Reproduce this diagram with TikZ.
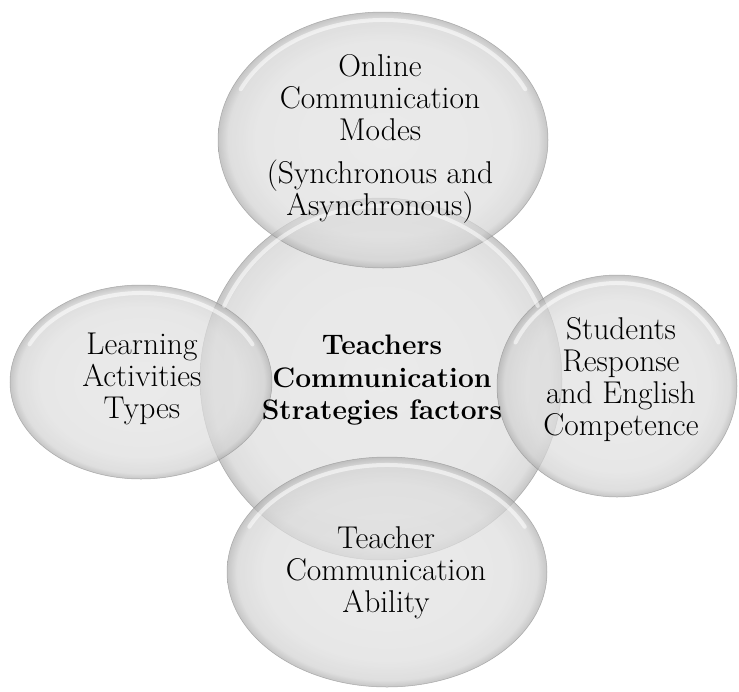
\documentclass[tikz,border=0pt]{standalone}
\usetikzlibrary{shapes.geometric}
\definecolor{bubA}{gray}{0.89}
\definecolor{bubB}{gray}{0.87}
\definecolor{bubC}{gray}{0.82}
\definecolor{bubD}{gray}{0.68}
\definecolor{bubedge}{gray}{0.58}
\pgfdeclareradialshading{bubshade}{\pgfpoint{0bp}{0bp}}{color(0bp)=(bubA); color(19bp)=(bubB); color(23.5bp)=(bubC); color(25bp)=(bubD); color(50bp)=(bubD)}
\tikzset{
  bubble/.style={ellipse, inner sep=0pt, shading=bubshade, draw=bubedge, line width=0.5pt, opacity=0.7},
  glare/.style={white, line width=4pt, opacity=0.55, line cap=round},
  txt/.style={align=center, font=\fontsize{31.5}{32}\selectfont},
  btxt/.style={align=center, font=\fontsize{28.2}{32.5}\selectfont\bfseries},
}
\begin{document}
\begin{tikzpicture}[x=1pt,y=-1pt]
\fill[white] (0,0) rectangle (739,691);
\useasboundingbox (0,0) rectangle (739,691);
% shapes
\node[bubble, minimum width=362pt, minimum height=362pt] (core) at (381,379) {};
\node[bubble, minimum width=330pt, minimum height=256pt] (online) at (383,140) {};
\node[bubble, minimum width=262pt, minimum height=194pt] (learn) at (141,382) {};
\node[bubble, minimum width=240pt, minimum height=222pt] (stud) at (617,386) {};
\node[bubble, minimum width=320pt, minimum height=230pt] (abil) at (387,572) {};
% glare
\draw[glare] ([shift={(205:173 and 173)}]core.center) arc[start angle=205, end angle=335, x radius=173, y radius=173];
\draw[glare] ([shift={(205:157 and 120)}]online.center) arc[start angle=205, end angle=335, x radius=157, y radius=120];
\draw[glare] ([shift={(205:123 and 89)}]learn.center) arc[start angle=205, end angle=335, x radius=123, y radius=89];
\draw[glare] ([shift={(205:112 and 103)}]stud.center) arc[start angle=205, end angle=335, x radius=112, y radius=103];
\draw[glare] ([shift={(205:152 and 107)}]abil.center) arc[start angle=205, end angle=335, x radius=152, y radius=107];
% texts
\node[txt] (t-online) at (380,139) {Online\\Communication\\Modes\\[11pt](Synchronous and\\Asynchronous)};
\node[btxt] (t-core) at (382,380.5) {Teachers\\Communication\\Strategies factors};
\node[txt] (t-learn) at (142,378.5) {Learning\\Activities\\Types};
\node[txt] (t-stud) at (621,379.5) {Students\\Response\\and English\\Competence};
\node[txt] (t-abil) at (386,573) {Teacher\\Communication\\Ability};
\end{tikzpicture}
\end{document}
